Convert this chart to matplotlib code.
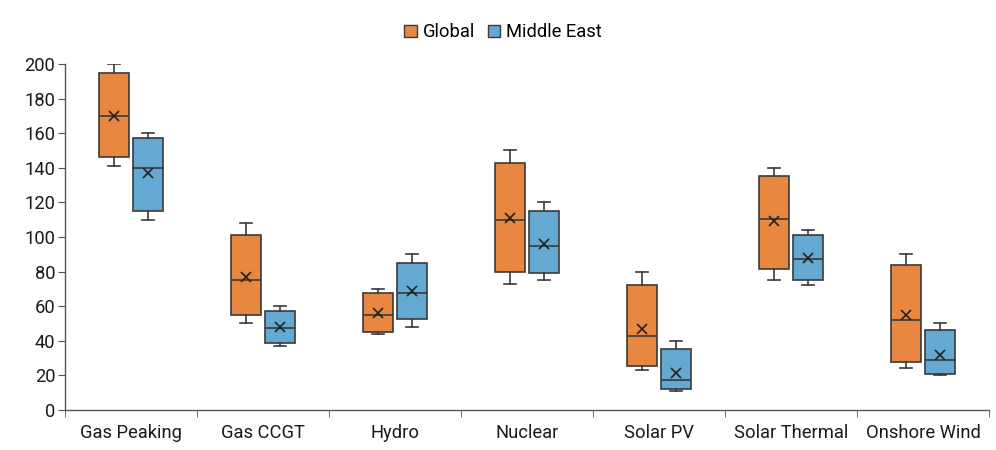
import matplotlib
matplotlib.use("Agg")
import matplotlib.pyplot as plt
from matplotlib.patches import Patch

categories = ["Gas Peaking", "Gas CCGT", "Hydro", "Nuclear", "Solar PV", "Solar Thermal", "Onshore Wind"]

# [whisker low, q1, median, q3, whisker high]
global_stats = [
    [141, 146, 170, 195, 200],
    [50, 55, 75, 101, 108],
    [44, 45, 55, 67.5, 70],
    [73, 80, 110, 142.5, 150],
    [23, 25.5, 42.5, 72.5, 80],
    [75, 81.5, 110.5, 135.5, 140],
    [24, 28, 52, 84, 90],
]
global_means = [170, 77, 56, 111, 47, 109, 55]

me_stats = [
    [110, 115, 140, 157, 160],
    [37, 38.5, 47.5, 57.5, 60],
    [48, 52.5, 67.5, 85, 90],
    [75, 79, 95, 115, 120],
    [11, 12, 17.5, 35, 40],
    [72.5, 75, 87, 101, 104],
    [20, 21, 29, 46, 50],
]
me_means = [137, 48, 68.5, 96, 21.5, 88, 31.5]

series_names = ["Global", "Middle East"]
colors = ["#E8873F", "#63A9D1"]
edge = "#3a3a3a"

plt.rcParams['font.family'] = ['Roboto', 'DejaVu Sans']

fig = plt.figure(figsize=(9.96, 4.5), dpi=100)
ax = fig.add_axes([0.0653, 0.0889, 0.9277, 0.7689])

def to_dicts(stats, means):
    out = []
    for s, m in zip(stats, means):
        out.append(dict(whislo=s[0], q1=s[1], med=s[2], q3=s[3], whishi=s[4], mean=m, fliers=[]))
    return out

n = len(categories)
centers = list(range(1, n + 1))
offset = 0.13
width = 0.225

for k, (stats, means) in enumerate([(global_stats, global_means), (me_stats, me_means)]):
    pos = [c + (-offset if k == 0 else offset) for c in centers]
    ax.bxp(to_dicts(stats, means), positions=pos, widths=width, patch_artist=True,
           showmeans=True, showfliers=False,
           boxprops=dict(facecolor=colors[k], edgecolor=edge, linewidth=1.2),
           medianprops=dict(color=edge, linewidth=1.2),
           whiskerprops=dict(color=edge, linewidth=1.2),
           capprops=dict(color=edge, linewidth=1.2),
           capwidths=width * 0.4,
           meanprops=dict(marker='x', markeredgecolor='#222222', markersize=7, markeredgewidth=1.2))

fs = 13.2
ax.set_xlim(0.5, n + 0.5)
ax.set_ylim(0, 200)
ax.set_yticks(range(0, 201, 20))
ax.set_xticks(centers)
ax.set_xticklabels(categories, fontsize=fs, color="#1a1a1a")
ax.set_xticks([c + 0.5 for c in range(0, n + 1)], minor=True)
ax.tick_params(axis='x', which='major', length=0, pad=10)
ax.tick_params(axis='x', which='minor', length=5, color="#555555", direction='out')
ax.tick_params(axis='y', length=5, color="#555555", labelsize=fs, labelcolor="#1a1a1a", pad=2)
for s in ["top", "right"]:
    ax.spines[s].set_visible(False)
for s in ["left", "bottom"]:
    ax.spines[s].set_color("#555555")
    ax.spines[s].set_linewidth(1.0)

handles = [Patch(facecolor=colors[i], edgecolor=edge, linewidth=1.0, label=series_names[i]) for i in range(2)]
fig.legend(handles=handles, loc='center', bbox_to_anchor=(0.505, 0.928), ncol=2, frameon=False,
           fontsize=fs, handlelength=0.7, handleheight=0.7, handletextpad=0.3, columnspacing=0.7)

fig.savefig("out.png", dpi=100)
